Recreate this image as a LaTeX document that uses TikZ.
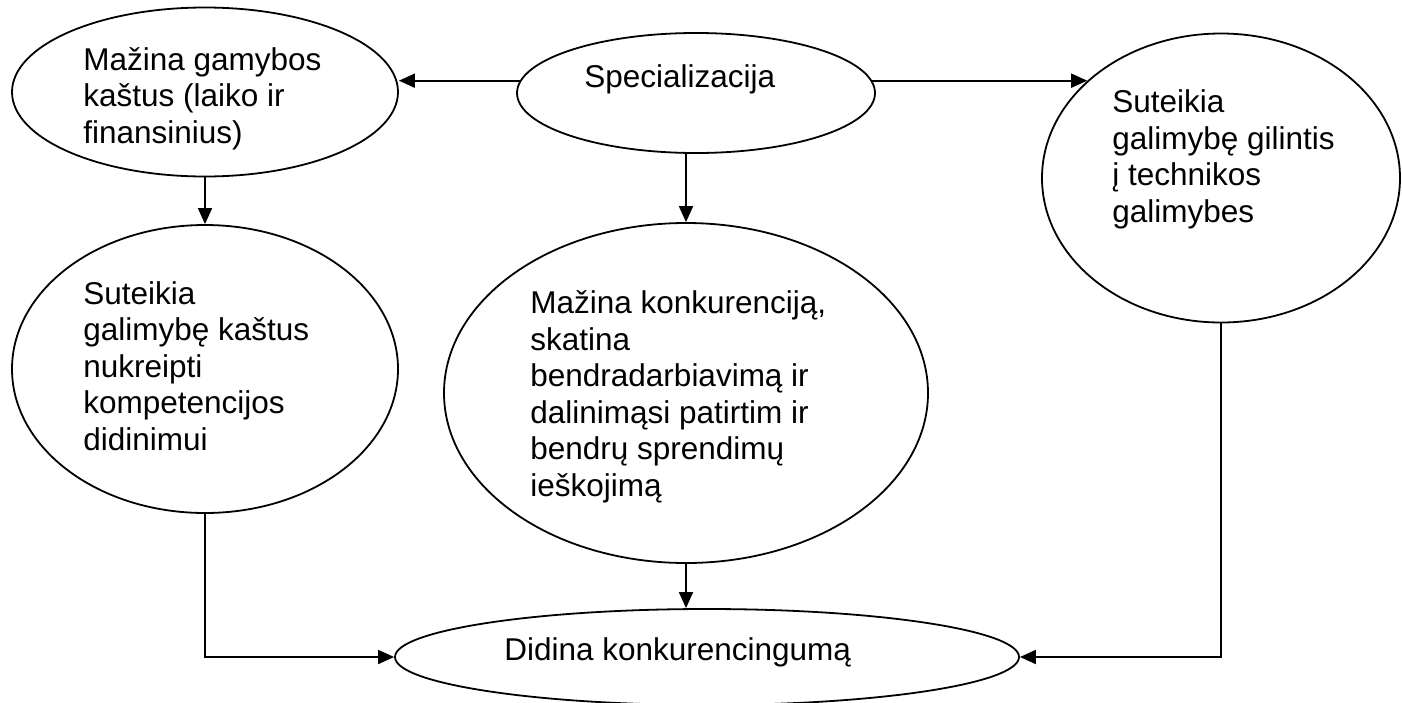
\documentclass[tikz,border=0pt]{standalone}
\usepackage{fontspec}
\setmainfont{Liberation Sans}
\usetikzlibrary{calc,
                    arrows.meta,
                    shapes.geometric}
\tikzset{
elipse/.style={draw, ellipse, line width=0.9pt, inner sep=0pt}
                }
\tikzset{
seta/.style = {-{Triangle[length=8pt,width=7pt]}, line width=0.9pt}
         }
\tikzset{
texto/.style = {anchor=base west, align=left, inner sep=0pt,
        font=\fontsize{15.75}{18.25}\selectfont}
         }

\begin{document}
\begin{tikzpicture}[x=0.5pt,y=-0.5pt]
        \useasboundingbox (0,0) rectangle (1402,702);

        % elipses
        \node[elipse, minimum width=193pt, minimum height=84.5pt] (mazina) at (205,92) {};
        \node[elipse, minimum width=179pt, minimum height=60pt] (spec) at (696,93) {};
        \node[elipse, minimum width=179pt, minimum height=144.5pt] (tech) at (1221,178) {};
        \node[elipse, minimum width=193pt, minimum height=144pt] (kaina) at (205,369) {};
        \node[elipse, minimum width=242pt, minimum height=170pt] (konk) at (686,393) {};
        \node[elipse, minimum width=312pt, minimum height=48pt] (didina) at (707,657) {};

        % textos (base = ultima linha)
        \node[texto] (mazinaT) at (83,143) {Mažina gamybos\\kaštus (laiko ir\\finansinius)};
        \node[texto] (specT) at (584,87) {Specializacija};
        \node[texto] (techT) at (1112,222) {Suteikia\\galimybę gilintis\\į technikos\\galimybes};
        \node[texto] (kainaT) at (83,450) {Suteikia\\galimybę kaštus\\nukreipti\\kompetencijos\\didinimui};
        \node[texto] (konkT) at (530,496) {Mažina konkurenciją,\\skatina\\bendradarbiavimą ir\\dalinimąsi patirtim ir\\bendrų sprendimų\\ieškojimą};
        \node[texto] (didinaT) at (504,660) {Didina konkurencingumą};

        % setas
        \draw[seta] (spec.176) -- (spec.176 -| mazina.east);
        \draw[seta] (spec.4) -- (spec.4 -| tech.144);
        \draw[seta] (mazina.south) -- (kaina.north);
        \draw[seta] (spec.south -| konk.north) -- (konk.north);
        \draw[seta] (kaina.south) |- (didina.west);
        \draw[seta] (konk.south) -- (konk.south |- didina.north);
        \draw[seta] (tech.south) |- (didina.east);
    \end{tikzpicture}
\end{document}
